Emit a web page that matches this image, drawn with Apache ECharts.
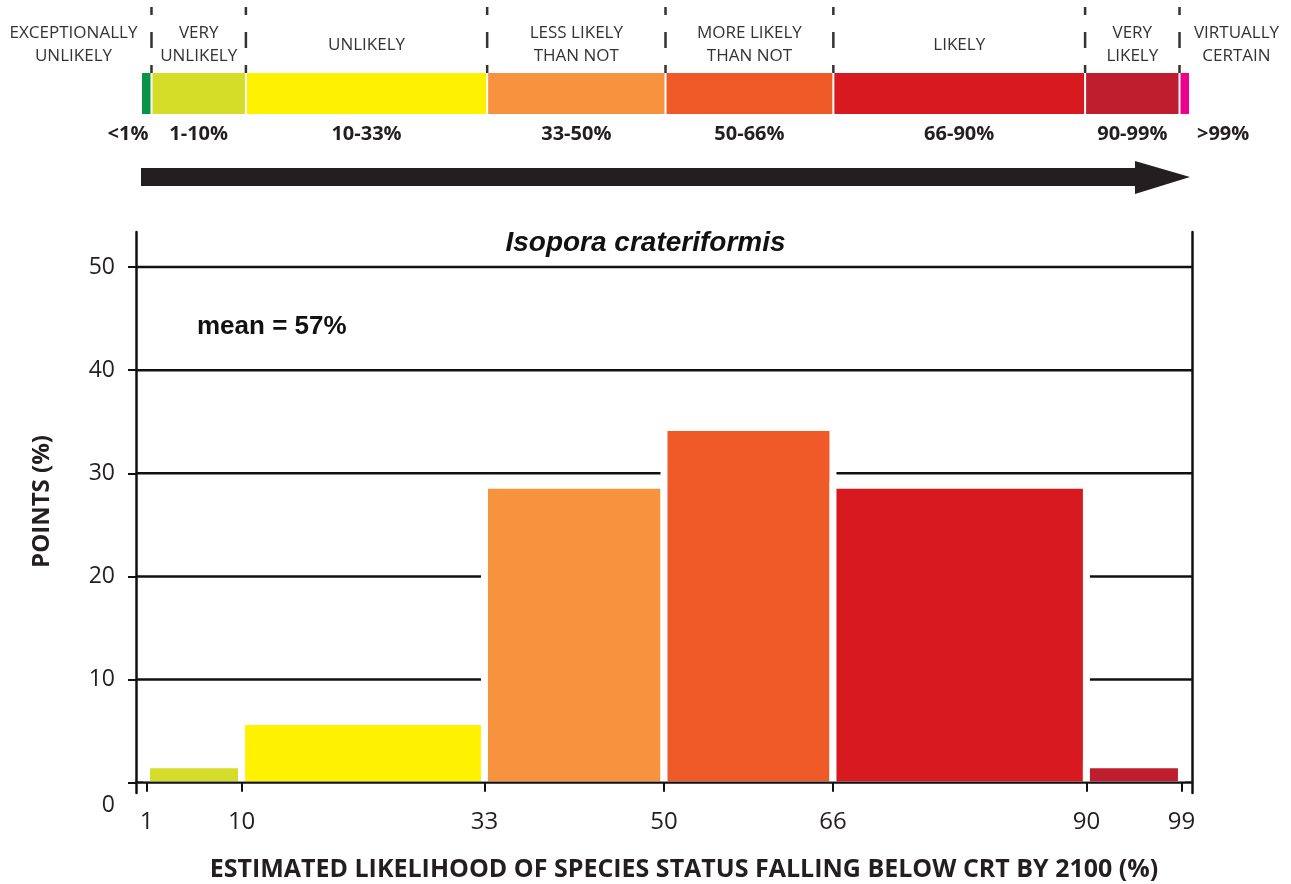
<!DOCTYPE html>
<html>
<head>
<meta charset="utf-8">
<title>Isopora crateriformis</title>
<script src="https://cdn.jsdelivr.net/npm/echarts@6/dist/echarts.min.js"></script>
<style>
  html, body { margin: 0; padding: 0; background: #fff; }
  #chart { width: 1291px; height: 884px; }
</style>
</head>
<body>
<div id="chart"></div>
<script>
  // likelihood scale shown above the histogram
  const scaleEdges = [0, 1, 10, 33, 50, 66, 90, 99, 100];
  const scaleTerms = ['EXCEPTIONALLY\nUNLIKELY', 'VERY\nUNLIKELY', 'UNLIKELY', 'LESS LIKELY\nTHAN NOT',
    'MORE LIKELY\nTHAN NOT', 'LIKELY', 'VERY\nLIKELY', 'VIRTUALLY\nCERTAIN'];
  const scaleRanges = ['<1%', '1-10%', '10-33%', '33-50%', '50-66%', '66-90%', '90-99%', '>99%'];
  const scaleColors = ['#0a9447', '#d5dd29', '#fff200', '#f7933e', '#ef5a28', '#d8191f', '#be1e2d', '#ec008c'];

  // histogram of points per likelihood bin
  const binStart = [1, 10, 33, 50, 66, 90];
  const binEnd = [10, 33, 50, 66, 90, 99];
  const pointsPct = [1.4, 5.6, 28.5, 34.1, 28.5, 1.4];
  const binColors = scaleColors.slice(1, 7);

  const xTicks = [1, 10, 33, 50, 66, 90, 99];
  const yTicks = [0, 10, 20, 30, 40, 50];
  const gridValues = [10, 20, 30, 40, 50];

  const ink = '#231f20';
  const numFont = '"Open Sans", "DejaVu Sans", sans-serif';
  const arial = '"Liberation Sans", Arial, sans-serif';

  function renderScale(params, api) {
    const i = params.dataIndex;
    const last = scaleTerms.length - 1;
    const a = api.coord([api.value(0), 0]);
    const b = api.coord([api.value(1), 1]);
    const x0 = a[0], x1 = b[0], yBot = a[1], yTop = b[1];
    const children = [{
      type: 'rect',
      shape: { x: x0 + 1, y: yTop, width: x1 - x0 - 2, height: yBot - yTop },
      style: { fill: scaleColors[i] }
    }];
    if (i > 0) {
      children.push({
        type: 'line',
        shape: { x1: x0, y1: yTop - 66, x2: x0, y2: yTop },
        style: { stroke: '#333', lineWidth: 2.5, lineDash: [16, 17], lineDashOffset: 8 }
      });
    }
    let tx = (x0 + x1) / 2;
    if (i === 0) tx = x1 - 78;
    if (i === last) tx = x0 + 57;
    children.push({
      type: 'text',
      style: {
        text: scaleTerms[i], x: tx, y: yTop - 28, align: 'center', verticalAlign: 'middle',
        fontSize: 17, fontFamily: numFont, lineHeight: 23, fill: '#333'
      }
    });
    let rx = (x0 + x1) / 2, ralign = 'center';
    if (i === 0) { rx = x1 - 3; ralign = 'right'; }
    if (i === last) { rx = x1 + 7; ralign = 'left'; }
    children.push({
      type: 'text',
      style: {
        text: scaleRanges[i], x: rx, y: yBot + 20, align: ralign, verticalAlign: 'middle',
        fontSize: 20, fontWeight: 'bold', fontFamily: numFont, fill: ink
      }
    });
    return { type: 'group', children: children };
  }

  function renderArrow(params, api) {
    const a = api.coord([api.value(0), 0]);
    const b = api.coord([api.value(1), 0]);
    const y = a[1];
    const xb = b[0] - 55;
    return {
      type: 'polygon',
      shape: { points: [[a[0], y + 54], [xb, y + 54], [xb, y + 47], [b[0], y + 63], [xb, y + 80], [xb, y + 72], [a[0], y + 72]] },
      style: { fill: ink }
    };
  }

  function renderGridLine(params, api) {
    const a = api.coord([0, api.value(0)]);
    const b = api.coord([100, api.value(0)]);
    return {
      type: 'line',
      shape: { x1: a[0], y1: a[1], x2: b[0], y2: b[1] },
      style: { stroke: '#111', lineWidth: 2.5 }
    };
  }

  function renderBin(params, api) {
    const i = params.dataIndex;
    const p0 = api.coord([api.value(0), 0]);
    const p1 = api.coord([api.value(1), api.value(2)]);
    const bottom = p0[1] - 1.5;
    return {
      type: 'group',
      children: [
        { type: 'rect', shape: { x: p0[0] - 3.5, y: p1[1] - 7, width: p1[0] - p0[0] + 7, height: bottom - p1[1] + 7 }, style: { fill: '#fff' } },
        { type: 'rect', shape: { x: p0[0] + 3.5, y: p1[1], width: p1[0] - p0[0] - 7, height: bottom - p1[1] }, style: { fill: binColors[i] } }
      ]
    };
  }

  const chart = echarts.init(document.getElementById('chart'), null, { renderer: 'canvas' });
  chart.setOption({
    animation: false,
    backgroundColor: '#fff',
    title: [
      {
        text: 'Isopora crateriformis', left: 'center', top: 224,
        textStyle: { fontSize: 28, fontWeight: 'bold', fontStyle: 'italic', fontFamily: arial, color: '#111' }
      },
      {
        text: 'mean = 57%', left: 192, top: 309,
        textStyle: { fontSize: 26, fontWeight: 'bold', fontFamily: arial, color: '#111' }
      }
    ],
    grid: [
      { left: 136, right: 99, top: 232, bottom: 91, outerBoundsMode: 'none' },
      { left: 141, right: 101, top: 73, height: 41, outerBoundsMode: 'none' }
    ],
    xAxis: [
      {
        type: 'value', min: 0, max: 100, gridIndex: 0,
        name: 'ESTIMATED LIKELIHOOD OF SPECIES STATUS FALLING BELOW CRT BY 2100 (%)',
        nameLocation: 'middle', nameGap: 64,
        nameTextStyle: { fontSize: 25, fontWeight: 'bold', fontFamily: numFont, color: ink, padding: [0, 0, 0, 40] },
        axisLine: { onZero: true, lineStyle: { color: '#111', width: 2.5 } },
        axisTick: { show: true, length: 9, lineStyle: { color: '#111', width: 2 }, customValues: xTicks },
        axisLabel: { customValues: xTicks, fontSize: 24, fontFamily: numFont, color: ink, margin: 17 },
        splitLine: { show: false }
      },
      { type: 'value', min: 0, max: 100, gridIndex: 1, show: false }
    ],
    yAxis: [
      {
        type: 'value', min: -1, max: 53.4, gridIndex: 0,
        name: 'POINTS (%)', nameLocation: 'middle', nameGap: 82,
        nameTextStyle: { fontSize: 24, fontWeight: 'bold', fontFamily: numFont, color: ink, padding: [0, 0, 0, 22] },
        axisLine: { show: true, lineStyle: { color: '#111', width: 2.5 } },
        axisTick: { show: true, length: 8, lineStyle: { color: '#111', width: 2 }, customValues: yTicks },
        axisLabel: {
          customValues: yTicks, fontSize: 23, fontFamily: numFont, color: ink, margin: 21,
          formatter: function (v) { return v === 0 ? '{zero|0}' : String(v); },
          rich: { zero: { fontSize: 23, fontFamily: numFont, color: ink, padding: [46, 0, 0, 0] } }
        },
        splitLine: { show: false }
      },
      {
        type: 'value', min: -1, max: 53.4, gridIndex: 0, position: 'right',
        axisLine: { show: true, lineStyle: { color: '#111', width: 2.5 } },
        axisTick: { show: false }, axisLabel: { show: false }, splitLine: { show: false }
      },
      { type: 'value', min: 0, max: 1, gridIndex: 1, show: false }
    ],
    series: [
      {
        type: 'custom', name: 'scale', xAxisIndex: 1, yAxisIndex: 2, clip: false, silent: true,
        renderItem: renderScale,
        data: scaleTerms.map((t, i) => [scaleEdges[i], scaleEdges[i + 1]])
      },
      {
        type: 'custom', name: 'arrow', xAxisIndex: 1, yAxisIndex: 2, clip: false, silent: true,
        renderItem: renderArrow,
        data: [[scaleEdges[0], scaleEdges[scaleEdges.length - 1]]]
      },
      {
        type: 'custom', name: 'grid lines', xAxisIndex: 0, yAxisIndex: 0, z: 1, clip: false, silent: true,
        renderItem: renderGridLine,
        data: gridValues.map(v => [v])
      },
      {
        type: 'custom', name: 'points', xAxisIndex: 0, yAxisIndex: 0, z: 3, clip: false,
        renderItem: renderBin,
        encode: { x: [0, 1], y: 2 },
        data: binStart.map((s, i) => [s, binEnd[i], pointsPct[i]])
      }
    ]
  });
</script>
</body>
</html>
